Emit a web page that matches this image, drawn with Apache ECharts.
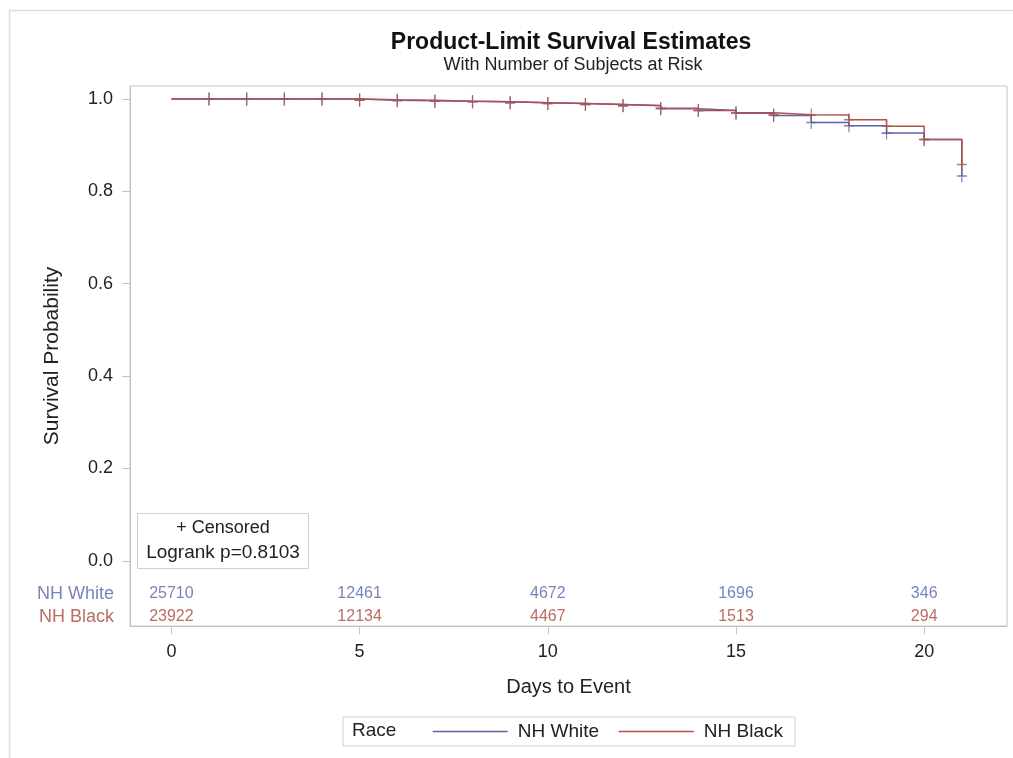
<!DOCTYPE html>
<html>
<head>
<meta charset="utf-8">
<script src="https://cdn.jsdelivr.net/npm/echarts@6/dist/echarts.min.js"></script>
<style>
  html, body { margin: 0; padding: 0; background: #ffffff; }
  #chart { width: 1013px; height: 758px; }
</style>
</head>
<body>
<div id="chart"></div>
<script>
// ---- data ----
const days = [0, 1, 2, 3, 4, 5, 6, 7, 8, 9, 10, 11, 12, 13, 14, 15, 16, 17, 18, 19, 20, 21];
const survWhite = [1, 1, 1, 1, 1, 0.997, 0.996, 0.995, 0.994, 0.992, 0.990, 0.988, 0.985, 0.979, 0.975, 0.969, 0.964, 0.949, 0.942, 0.926, 0.912, 0.833];
const survBlack = [1, 1, 1, 1, 1, 0.998, 0.997, 0.995, 0.994, 0.992, 0.990, 0.988, 0.986, 0.980, 0.975, 0.970, 0.966, 0.965, 0.955, 0.941, 0.912, 0.858];
const censorDays = [1, 2, 3, 4, 5, 6, 7, 8, 9, 10, 11, 12, 13, 14, 15, 16, 17, 18, 19, 20, 21];
const groups = ['NH White', 'NH Black'];
const riskTimes = [0, 5, 10, 15, 20];
const riskWhite = [25710, 12461, 4672, 1696, 346];
const riskBlack = [23922, 12134, 4467, 1513, 294];
const xTicks = [0, 5, 10, 15, 20];
const yTicks = [0, 0.2, 0.4, 0.6, 0.8, 1.0];

// ---- style ----
const FONT = 'Liberation Sans, Arial, sans-serif';
const BLUE = '#5a65a6';
const RED = '#b0514b';
const BLUE_TXT = '#5865ad';
const RED_TXT = '#a9463f';
const GRID_C = '#c4c4c4';
const PLUS = 'path://M4.4,0 H5.6 V4.4 H10 V5.6 H5.6 V10 H4.4 V5.6 H0 V4.4 H4.4 Z';

const X_MIN = -1.1, X_MAX = 22.2, Y_MIN = -0.141, Y_MAX = 1.028;
const ROW1_Y = -0.0717, ROW2_Y = -0.1215;

function pairs(xs, ys) { return xs.map((x, i) => [x, ys[i]]); }
function censorPts(surv) { return censorDays.map(d => [d, surv[days.indexOf(d)]]); }

const chart = echarts.init(document.getElementById('chart'), null, { renderer: 'canvas' });

const option = {
  backgroundColor: '#ffffff',
  animation: false,
  textStyle: { fontFamily: FONT },
  title: [
    { text: 'Product-Limit Survival Estimates', left: 566, top: 26, textAlign: 'center',
      textStyle: { fontFamily: FONT, fontSize: 23, fontWeight: 'bold', color: '#111' } },
    { text: 'With Number of Subjects at Risk', left: 568, top: 51, textAlign: 'center',
      textStyle: { fontFamily: FONT, fontSize: 18, fontWeight: 'normal', color: '#222' } }
  ],
  grid: { left: 130, right: 6, top: 86, bottom: 132, show: true, borderColor: GRID_C, borderWidth: 1, containLabel: false },
  xAxis: {
    type: 'value', min: X_MIN, max: X_MAX, position: 'bottom',
    name: 'Days to Event', nameLocation: 'middle', nameGap: 51,
    nameTextStyle: { fontFamily: FONT, fontSize: 20, color: '#222' },
    axisLine: { show: true, onZero: false, lineStyle: { color: GRID_C } },
    axisTick: { show: true, length: 8, lineStyle: { color: GRID_C }, customValues: xTicks },
    axisLabel: { customValues: xTicks, margin: 17, fontFamily: FONT, fontSize: 18, color: '#222' },
    splitLine: { show: false }
  },
  yAxis: {
    type: 'value', min: Y_MIN, max: Y_MAX,
    name: 'Survival Probability', nameLocation: 'middle', nameGap: 67,
    nameTextStyle: { fontFamily: FONT, fontSize: 21, color: '#222' },
    axisLine: { show: true, onZero: false, lineStyle: { color: GRID_C } },
    axisTick: { show: true, length: 8, lineStyle: { color: GRID_C }, customValues: yTicks },
    axisLabel: { customValues: yTicks, margin: 17, fontFamily: FONT, fontSize: 18, color: '#222',
      formatter: v => v.toFixed(1) },
    splitLine: { show: false }
  },
  legend: {
    data: groups, left: 343, top: 717, orient: 'horizontal',
    padding: [5, 12, 5, 89], itemWidth: 75, itemHeight: 14, itemGap: 19,
    borderColor: '#cfcfcf', borderWidth: 1,
    itemStyle: { opacity: 0 },
    lineStyle: { width: 1.5 },
    textStyle: { fontFamily: FONT, fontSize: 19, color: '#222', padding: [0, 0, 0, 5] }
  },
  graphic: [
    { type: 'rect', left: 7, top: 8, shape: { width: 1100, height: 800 },
      style: { fill: 'none', stroke: '#dedede', lineWidth: 1.5 }, silent: true, z: -10 },
    { type: 'text', x: 352, y: 731, style: { text: 'Race', verticalAlign: 'middle', fontFamily: FONT, fontSize: 19, fill: '#222' } },
    { type: 'group', left: 137, top: 513, children: [
      { type: 'rect', shape: { x: 0, y: 0, width: 171, height: 55 }, style: { fill: '#fff', stroke: '#cfcfcf', lineWidth: 1 } },
      { type: 'text', style: { x: 85.5, y: 15, text: '+ Censored', align: 'center', verticalAlign: 'middle', fontFamily: FONT, fontSize: 18, fill: '#222' } },
      { type: 'text', style: { x: 85.5, y: 39, text: 'Logrank p=0.8103', align: 'center', verticalAlign: 'middle', fontFamily: FONT, fontSize: 19, fill: '#222' } }
    ], z: 10 }
  ],
  series: [
    { name: groups[0], type: 'line', step: 'end', symbol: 'none', data: pairs(days, survWhite),
      lineStyle: { color: BLUE, width: 1.5 }, itemStyle: { color: BLUE }, z: 2 },
    { name: groups[1], type: 'line', step: 'end', symbol: 'none', data: pairs(days, survBlack),
      lineStyle: { color: RED, width: 1.5 }, itemStyle: { color: RED }, z: 3 },
    { name: groups[0] + ' censored', type: 'scatter', symbol: PLUS, symbolSize: [10, 13],
      data: censorPts(survWhite), itemStyle: { color: BLUE }, z: 4 },
    { name: groups[1] + ' censored', type: 'scatter', symbol: PLUS, symbolSize: [10, 13],
      data: censorPts(survBlack), itemStyle: { color: RED }, z: 5 },
    { name: 'risk white', type: 'scatter', symbolSize: 0, clip: false, silent: true,
      data: riskTimes.map((t, i) => ({ value: [t, ROW1_Y], label: { formatter: String(riskWhite[i]) } })),
      label: { show: true, position: 'inside', fontFamily: FONT, fontSize: 16, color: BLUE_TXT } },
    { name: 'risk black', type: 'scatter', symbolSize: 0, clip: false, silent: true,
      data: riskTimes.map((t, i) => ({ value: [t, ROW2_Y], label: { formatter: String(riskBlack[i]) } })),
      label: { show: true, position: 'inside', fontFamily: FONT, fontSize: 16, color: RED_TXT } },
    { name: 'risk labels', type: 'scatter', symbolSize: 0, clip: false, silent: true,
      data: [
        { value: [X_MIN, ROW1_Y], label: { formatter: groups[0], color: BLUE_TXT } },
        { value: [X_MIN, ROW2_Y], label: { formatter: groups[1], color: RED_TXT } }
      ],
      label: { show: true, position: 'left', distance: 16, fontFamily: FONT, fontSize: 18 } }
  ]
};
chart.setOption(option);
</script>
</body>
</html>
